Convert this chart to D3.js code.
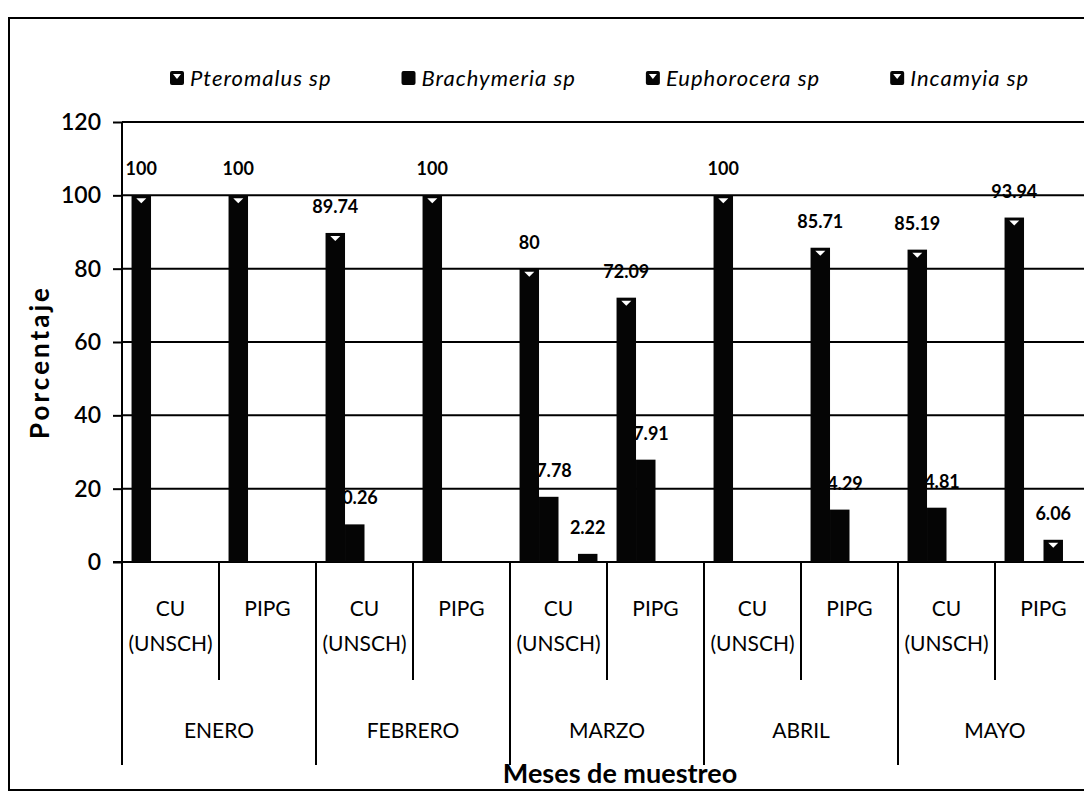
<!DOCTYPE html>
<html>
<head>
<meta charset="utf-8">
<script src="https://cdn.jsdelivr.net/npm/d3@7"></script>
<style>
    body { margin: 0; background: #fff; }
    #chart { width: 1084px; height: 795px; }
    text { font-family: Lato, "Open Sans", sans-serif; fill: #000; }
    .grid line, .axis-line { stroke: #000; stroke-width: 2; }
</style>
</head>
<body>
<div id="chart"></div>
<script>

// data
const months = ["ENERO", "FEBRERO", "MARZO", "ABRIL", "MAYO"];
const sites = ["CU (UNSCH)", "PIPG"];
const seriesNames = ["Pteromalus sp", "Brachymeria sp", "Euphorocera sp", "Incamyia sp"];
const pteromalus  = [100, 100, 89.74, 100, 80, 72.09, 100, 85.71, 85.19, 93.94];
const brachymeria = [0, 0, 10.26, 0, 17.78, 27.91, 0, 14.29, 14.81, 0];
const euphorocera = [0, 0, 0, 0, 0, 0, 0, 0, 0, 6.06];
const incamyia    = [0, 0, 0, 0, 2.22, 0, 0, 0, 0, 0];
const yTicks = [0, 20, 40, 60, 80, 100, 120];
const notched = [true, false, true, true];

class GroupedBars {

    constructor(parentElement) {
        this.parentElement = parentElement;
        this.initVis();
    }

    initVis() {
        let vis = this;

        vis.margin = {top: 122, left: 122};
        vis.width = 970;
        vis.height = 440;

        vis.svg = d3.select("#" + vis.parentElement).append("svg")
            .attr("width", 1084)
            .attr("height", 795);

        // outer frame (right side runs off the scan)
        vis.svg.append("rect")
            .attr("x", 9).attr("y", 18)
            .attr("width", 1100).attr("height", 772)
            .attr("fill", "none").attr("stroke", "#000").attr("stroke-width", 2);

        vis.g = vis.svg.append("g")
            .attr("transform", `translate(${vis.margin.left}, ${vis.margin.top})`);

        vis.groups = [];
        months.forEach(m => sites.forEach(s => vis.groups.push(m + "|" + s)));

        vis.x0 = d3.scaleBand().domain(vis.groups).range([0, vis.width]).padding(0);
        vis.x1 = d3.scaleBand().domain(seriesNames).range([0, vis.x0.bandwidth()])
            .paddingInner(0).paddingOuter(0.49);
        vis.xm = d3.scaleBand().domain(months).range([0, vis.width]).padding(0);
        vis.y = d3.scaleLinear().domain([0, 120]).range([vis.height, 0]);

        vis.wrangleData();
    }

    wrangleData() {
        let vis = this;
        let cols = [pteromalus, brachymeria, euphorocera, incamyia];
        vis.displayData = [];
        vis.groups.forEach((g, i) => {
            seriesNames.forEach((s, j) => {
                if (cols[j][i] > 0) vis.displayData.push({group: g, series: s, value: cols[j][i], notch: notched[j]});
            });
        });
        vis.updateVis();
    }

    updateVis() {
        let vis = this;

        // gridlines
        vis.g.append("g").attr("class", "grid")
            .selectAll("line").data(yTicks.filter(d => d > 0)).enter().append("line")
            .attr("x1", 0).attr("x2", vis.width)
            .attr("y1", d => vis.y(d)).attr("y2", d => vis.y(d));

        // y axis
        let yAxis = d3.axisLeft(vis.y).tickValues(yTicks).tickSize(9).tickPadding(12);
        let ya = vis.g.append("g").attr("class", "y-axis").call(yAxis);
        ya.select(".domain").remove();
        ya.selectAll(".tick line").attr("stroke", "#000").attr("stroke-width", 2);
        ya.selectAll(".tick text")
            .style("font-size", "23px").style("font-weight", "600");

        vis.g.append("line").attr("class", "axis-line")
            .attr("x1", 0).attr("x2", 0).attr("y1", 0).attr("y2", 643);
        vis.g.append("line").attr("class", "axis-line")
            .attr("x1", -9).attr("x2", vis.width).attr("y1", vis.height).attr("y2", vis.height);

        // data labels (drawn under the bars, as in the original)
        vis.g.append("g").selectAll("text").data(vis.displayData).enter().append("text")
            .attr("x", d => vis.x0(d.group) + vis.x1(d.series) + vis.x1.bandwidth() / 2)
            .attr("y", d => vis.y(d.value) - 20)
            .attr("text-anchor", "middle")
            .style("font-size", "18px").style("font-weight", "bold")
            .text(d => d.value);

        // bars
        let bars = vis.g.append("g").selectAll("g").data(vis.displayData).enter().append("g");
        bars.append("rect")
            .attr("x", d => vis.x0(d.group) + vis.x1(d.series))
            .attr("y", d => vis.y(d.value))
            .attr("width", vis.x1.bandwidth())
            .attr("height", d => vis.height - vis.y(d.value))
            .attr("fill", "#050505");
        bars.filter(d => d.notch && vis.height - vis.y(d.value) > 12).append("path")
            .attr("d", d => {
                let cx = vis.x0(d.group) + vis.x1(d.series) + vis.x1.bandwidth() / 2;
                let ty = vis.y(d.value) + 3;
                return `M${cx - 5},${ty} L${cx + 5},${ty} L${cx},${ty + 5} Z`;
            })
            .attr("fill", "#fff");

        // category dividers below the axis
        vis.g.append("g").selectAll("line").data(vis.groups.concat(["end"])).enter().append("line")
            .attr("x1", (d, i) => i * vis.x0.step())
            .attr("x2", (d, i) => i * vis.x0.step())
            .attr("y1", vis.height)
            .attr("y2", (d, i) => i % 2 === 0 ? 643 : 558)
            .attr("stroke", "#000").attr("stroke-width", 2);

        let cat = vis.g.append("g").selectAll("text").data(vis.groups).enter().append("text")
            .attr("x", d => vis.x0(d) + vis.x0.bandwidth() / 2)
            .attr("y", vis.height + 54)
            .attr("text-anchor", "middle")
            .style("font-size", "21px");
        cat.each(function (d) {
            let s = d.split("|")[1];
            let parts = s === "PIPG" ? ["PIPG"] : ["CU", "(UNSCH)"];
            parts.forEach((p, k) => {
                d3.select(this).append("tspan")
                    .attr("x", vis.x0(d) + vis.x0.bandwidth() / 2)
                    .attr("dy", k === 0 ? 0 : 35)
                    .text(p);
            });
        });

        vis.g.append("g").selectAll("text").data(months).enter().append("text")
            .attr("x", d => vis.xm(d) + vis.xm.bandwidth() / 2)
            .attr("y", vis.height + 176)
            .attr("text-anchor", "middle")
            .style("font-size", "21px")
            .text(d => d);

        // axis titles
        vis.g.append("text")
            .attr("x", 498).attr("y", vis.height + 221)
            .attr("text-anchor", "middle")
            .style("font-size", "27px").style("font-weight", "bold")
            .text("Meses de muestreo");

        vis.g.append("text")
            .attr("transform", `translate(${-73}, ${240}) rotate(-90)`)
            .attr("text-anchor", "middle")
            .style("font-size", "26px").style("font-weight", "bold")
            .style("letter-spacing", "3px")
            .text("Porcentaje");

        // legend
        let legend = vis.svg.append("g").attr("class", "legend")
            .attr("transform", "translate(170, 78)");
        let lx = 0;
        seriesNames.forEach((s, i) => {
            let item = legend.append("g").attr("transform", `translate(${lx}, 0)`);
            item.append("rect")
                .attr("x", 0).attr("y", -7).attr("width", 14).attr("height", 14)
                .attr("rx", 2).attr("fill", "#050505");
            if (notched[i]) {
                item.append("path").attr("d", "M3,-4 L11,-4 L7,1 Z").attr("fill", "#fff");
            }
            let t = item.append("text")
                .attr("x", 20).attr("y", 8)
                .style("font-size", "22px").style("font-style", "italic")
                .style("letter-spacing", "1px")
                .text(s);
            lx += 20 + t.node().getComputedTextLength() + 70;
        });
    }
}

new GroupedBars("chart");

</script>
</body>
</html>
